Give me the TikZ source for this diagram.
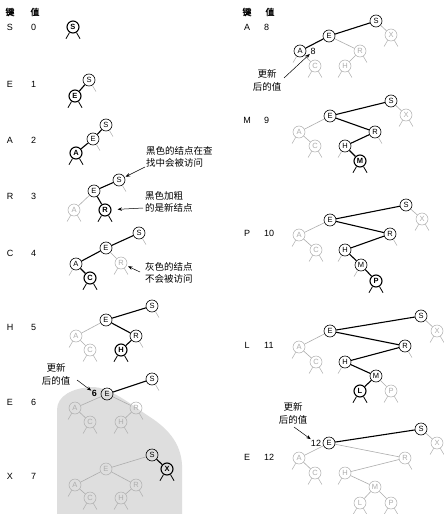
\documentclass[tikz,border=0pt]{standalone}
\usepackage{fontspec}
\setmainfont{Liberation Sans}
\newfontfamily\cjk{Noto Sans CJK SC}
\newfontfamily\cjkb[FakeBold=1.2]{Noto Sans CJK SC}
\usetikzlibrary{arrows.meta}
\definecolor{lg}{gray}{0.68}
\definecolor{blobc}{gray}{0.87}
\tikzset{
 x=1pt,y=-1pt,
 nd/.style={circle,draw=black,line width=0.6pt,inner sep=0pt,minimum size=12pt,font=\fontsize{7.5}{7.5}\selectfont,text=black},
 gn/.style={nd,draw=lg,text=lg,line width=0.5pt},
 nw/.style={nd,line width=1.1pt,font=\fontsize{7.5}{7.5}\selectfont\bfseries},
 be/.style={draw=black,line width=1.1pt},
 ge/.style={draw=lg,line width=0.6pt},
 bl/.style={draw=black,line width=0.8pt},
 gl/.style={draw=lg,line width=0.5pt},
 lab/.style={font=\fontsize{9}{9}\selectfont,inner sep=0pt},
 hd/.style={font=\cjkb\fontsize{9}{9}\selectfont,inner sep=0pt},
 ann/.style={font=\cjk\fontsize{9.5}{12.5}\selectfont,align=left,inner sep=0pt,anchor=north west},
 upd/.style={font=\cjk\fontsize{9.5}{13}\selectfont,align=center,inner sep=0pt},
 num/.style={font=\fontsize{9}{9}\selectfont,inner sep=0.5pt},
 arr/.style={-{Stealth[length=4.5pt,width=3.5pt]},line width=0.5pt},
}
\newcommand\LL[2][gl]{\draw[#1] (#2.-122) -- ++(-3.6,6.2);}
\newcommand\RL[2][gl]{\draw[#1] (#2.-58) -- ++(3.6,6.2);}
\newcommand\LR[2][gl]{\LL[#1]{#2}\RL[#1]{#2}}
\begin{document}
\begin{tikzpicture}
\fill[white] (0,0) rectangle (444,514);
\useasboundingbox (0,0) rectangle (444,514);
% watermark blob
\begin{scope}
\clip (0,0) rectangle (444,514);
\fill[blobc] (57,520) -- (57,410) .. controls (57,396) and (72,388) .. (92,387)
  .. controls (110,387) and (130,404) .. (150,417)
  .. controls (170,430) and (181,445) .. (182,465) -- (182,520) -- cycle;
\end{scope}
% headers
\node[hd] (hk1) at (10,12) {键};
\node[hd] (hv1) at (35,12) {值};
\node[hd] (hk2) at (247,12) {键};
\node[hd] (hv2) at (270,12) {值};
% key/value labels
\foreach \k/\v/\y/\n in {S/0/27/a,E/1/84/b,A/2/140/c,R/3/196/d,C/4/253/e,H/5/327/f,E/6/402/g,X/7/476/h}{
  \node[lab] (k\n) at (10,\y) {\k};
  \node[lab,anchor=west] (v\n) at (31,\y) {\v};
}
\foreach \k/\v/\y/\n in {A/8/27/i,M/9/120/j,P/10/233/k,L/11/345/l,E/12/457/m}{
  \node[lab] (k\n) at (247,\y) {\k};
  \node[lab,anchor=west] (v\n) at (264,\y) {\v};
}
% Row S 0
\node[nw] (aS) at (73,27) {S};
\LR[bl]{aS}
% Row E 1
\node[nd] (bS) at (89,80) {S};
\node[nw] (bE) at (75,96) {E};
\draw[be] (bS) -- (bE);
\RL{bS} \LR[bl]{bE}
% Row A 2
\node[nd] (cS) at (106,125) {S};
\node[nd] (cE) at (93,139) {E};
\node[nw] (cA) at (76,153) {A};
\draw[be] (cS) -- (cE); \draw[be] (cE) -- (cA);
\RL{cS} \RL{cE} \LR[bl]{cA}
% Row R 3
\node[nd] (dS) at (119,180) {S};
\node[nd] (dE) at (94,191) {E};
\node[gn] (dA) at (74,210) {A};
\node[nw] (dR) at (105,210) {R};
\draw[be] (dS) -- (dE); \draw[be] (dE) -- (dR); \draw[ge] (dE) -- (dA);
\RL{dS} \LR{dA} \LR[bl]{dR}
% Row C 4
\node[nd] (eS) at (139,233) {S};
\node[nd] (eE) at (106,248) {E};
\node[nd] (eA) at (76,264) {A};
\node[gn] (eR) at (121,263) {R};
\node[nw] (eC) at (90,278) {C};
\draw[be] (eS) -- (eE); \draw[be] (eE) -- (eA); \draw[be] (eA) -- (eC); \draw[ge] (eE) -- (eR);
\RL{eS} \LL{eA} \LR{eR} \LR[bl]{eC}
% Row H 5
\node[nd] (fS) at (152,306) {S};
\node[nd] (fE) at (106,320) {E};
\node[gn] (fA) at (76,336) {A};
\node[nd] (fR) at (136,336) {R};
\node[gn] (fC) at (90,350) {C};
\node[nw] (fH) at (121,350) {H};
\draw[be] (fS) -- (fE); \draw[be] (fE) -- (fR); \draw[be] (fR) -- (fH);
\draw[ge] (fE) -- (fA); \draw[ge] (fA) -- (fC);
\RL{fS} \LL{fA} \LR{fC} \RL{fR} \LR[bl]{fH}
% Row E 6
\node[nd] (gS) at (152,379) {S};
\node[nd] (gE) at (107,394) {E};
\node[gn] (gA) at (75,408) {A};
\node[gn] (gR) at (136,408) {R};
\node[gn] (gC) at (90,422) {C};
\node[gn] (gH) at (121,422) {H};
\draw[be] (gS) -- (gE);
\draw[ge] (gE) -- (gA); \draw[ge] (gA) -- (gC); \draw[ge] (gE) -- (gR); \draw[ge] (gR) -- (gH);
\RL{gS} \LL{gA} \LR{gC} \RL{gR} \LR{gH}
\node[num,font=\fontsize{9}{9}\selectfont\bfseries] (g6) at (94.5,393) {6};
% Row X 7
\node[nd] (hS) at (152,455) {S};
\node[nw] (hX) at (167,469) {X};
\node[gn] (hE) at (106,469) {E};
\node[gn] (hA) at (75,485) {A};
\node[gn] (hR) at (136,485) {R};
\node[gn] (hC) at (90,498) {C};
\node[gn] (hH) at (121,498) {H};
\draw[be] (hS) -- (hX);
\draw[ge] (hS) -- (hE); \draw[ge] (hE) -- (hA); \draw[ge] (hA) -- (hC); \draw[ge] (hE) -- (hR); \draw[ge] (hR) -- (hH);
\LR[bl]{hX} \LL{hA} \LR{hC} \RL{hR} \LR{hH}
% Row A 8
\node[nd] (iS) at (376,21) {S};
\node[nd] (iE) at (329,36) {E};
\node[gn] (iX) at (391,35) {X};
\node[nd] (iA) at (300,51) {A};
\node[gn] (iR) at (360,51) {R};
\node[gn] (iC) at (315,66) {C};
\node[gn] (iH) at (345,66) {H};
\draw[be] (iS) -- (iE); \draw[be] (iE) -- (iA);
\draw[ge] (iS) -- (iX); \draw[ge] (iA) -- (iC); \draw[ge] (iE) -- (iR); \draw[ge] (iR) -- (iH);
\LR{iX} \LL{iA} \LR{iC} \RL{iR} \LR{iH}
\node[num] (i8) at (313,51) {8};
% Row M 9
\node[nd] (jS) at (391,101) {S};
\node[nd] (jE) at (330,116) {E};
\node[gn] (jX) at (406,115) {X};
\node[nd] (jR) at (375,132) {R};
\node[gn] (jA) at (299,132) {A};
\node[gn] (jC) at (315,146) {C};
\node[nd] (jH) at (345,146) {H};
\node[nw] (jM) at (360,161) {M};
\draw[be] (jS) -- (jE); \draw[be] (jE) -- (jR); \draw[be] (jR) -- (jH); \draw[be] (jH) -- (jM);
\draw[ge] (jS) -- (jX); \draw[ge] (jE) -- (jA); \draw[ge] (jA) -- (jC);
\LR{jX} \LL{jA} \LR{jC} \RL{jR} \LL{jH} \LR[bl]{jM}
% Row P 10
\node[nd] (kS) at (406,205) {S};
\node[nd] (kE) at (330,220) {E};
\node[gn] (kX) at (422,219) {X};
\node[nd] (kR) at (390,234) {R};
\node[gn] (kA) at (299,235) {A};
\node[gn] (kC) at (316,250) {C};
\node[nd] (kH) at (345,250) {H};
\node[nd] (kM) at (361,265) {M};
\node[nw] (kP) at (376,281) {P};
\draw[be] (kS) -- (kE); \draw[be] (kE) -- (kR); \draw[be] (kR) -- (kH); \draw[be] (kH) -- (kM); \draw[be] (kM) -- (kP);
\draw[ge] (kS) -- (kX); \draw[ge] (kE) -- (kA); \draw[ge] (kA) -- (kC);
\LR{kX} \LL{kA} \LR{kC} \RL{kR} \LL{kH} \LL{kM} \LR[bl]{kP}
% Row L 11
\node[nd] (lS) at (421,316) {S};
\node[nd] (lE) at (330,331) {E};
\node[gn] (lX) at (437,331) {X};
\node[nd] (lR) at (405,346) {R};
\node[gn] (lA) at (299,347) {A};
\node[gn] (lC) at (316,362) {C};
\node[nd] (lH) at (345,362) {H};
\node[nd] (lM) at (376,376) {M};
\node[nw] (lL) at (360,391) {L};
\node[gn] (lP) at (391,391) {P};
\draw[be] (lS) -- (lE); \draw[be] (lE) -- (lR); \draw[be] (lR) -- (lH); \draw[be] (lH) -- (lM); \draw[be] (lM) -- (lL);
\draw[ge] (lS) -- (lX); \draw[ge] (lE) -- (lA); \draw[ge] (lA) -- (lC); \draw[ge] (lM) -- (lP);
\LR{lX} \LL{lA} \LR{lC} \RL{lR} \LL{lH} \LR[bl]{lL} \LR{lP}
% Row E 12
\node[nd] (mS) at (421,429) {S};
\node[nd] (mE) at (329,443) {E};
\node[gn] (mX) at (437,443) {X};
\node[gn] (mR) at (405,458) {R};
\node[gn] (mA) at (299,458) {A};
\node[gn] (mC) at (315,473) {C};
\node[gn] (mH) at (345,473) {H};
\node[gn] (mM) at (375,487) {M};
\node[gn] (mL) at (360,503) {L};
\node[gn] (mP) at (391,503) {P};
\draw[be] (mS) -- (mE);
\draw[ge] (mS) -- (mX); \draw[ge] (mE) -- (mA); \draw[ge] (mA) -- (mC); \draw[ge] (mE) -- (mR);
\draw[ge] (mR) -- (mH); \draw[ge] (mH) -- (mM); \draw[ge] (mM) -- (mL); \draw[ge] (mM) -- (mP);
\LR{mX} \LL{mA} \LR{mC} \RL{mR} \LL{mH} \LR{mL} \LR{mP}
\node[num] (m12) at (316,443) {12};
% annotations
\node[ann] (t1) at (146,146) {黑色的结点在查\\找中会被访问};
\coordinate (c1) at (145,167);
\draw[arr,shorten >=1pt] (c1) -- (dS);
\node[ann] (t2) at (145,191) {黑色加粗\\的是新结点};
\coordinate (c2) at (143,208);
\draw[arr,shorten >=6pt] (c2) -- (dR);
\node[ann] (t3) at (145,262) {灰色的结点\\不会被访问};
\coordinate (c3) at (140,272);
\draw[arr,shorten >=1.5pt] (c3) -- (eR);
\node[upd] (u1) at (56,374) {更新\\后的值};
\coordinate (c4) at (77,380);
\draw[arr] (c4) -- (g6);
\node[upd] (u2) at (267,80.5) {更新\\后的值};
\coordinate (c5) at (284,78);
\draw[arr] (c5) -- (i8);
\node[upd] (u3) at (293,413) {更新\\后的值};
\coordinate (c6) at (294,427);
\draw[arr] (c6) -- (m12);
\end{tikzpicture}
\end{document}
